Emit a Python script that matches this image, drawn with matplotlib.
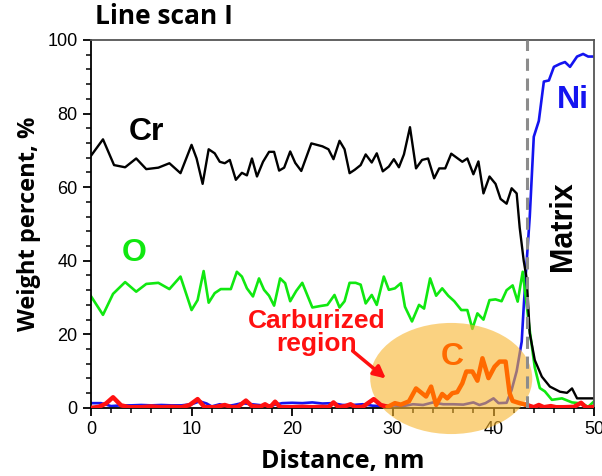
import numpy as np
import matplotlib
matplotlib.use("Agg")
import matplotlib.pyplot as plt
from matplotlib.patches import Ellipse

plt.rcParams.update({
    "font.family": "Liberation Sans",
    "font.size": 12,
})

# ---- data ----
cr_x = [0, 1.2, 2.3, 3.4, 4.5, 5.5, 6.7, 7.8, 8.9, 10.0, 10.5, 11.1, 11.7, 12.3, 12.8,
        13.3, 13.8, 14.4, 15.0, 15.5, 16.0, 16.5, 17.1, 17.7, 18.2, 18.7, 19.2, 19.8,
        20.3, 20.9, 21.9, 23.0, 23.6, 24.1, 24.7, 25.2, 25.7, 26.2, 26.8, 27.3, 27.9,
        28.4, 29.0, 29.6, 30.1, 30.6, 31.1, 31.7, 32.3, 32.9, 33.5, 34.1, 34.6, 35.2,
        35.8, 36.9, 37.4, 38.0, 38.5, 39.0, 39.6, 40.2, 40.7, 41.3, 41.8, 42.3, 42.6,
        43.0, 43.3, 43.6, 44.1, 44.8, 45.6, 46.6, 47.3, 47.8, 48.3, 48.9, 50.0]
cr_y = [68.5, 73.0, 66.0, 65.4, 67.8, 64.9, 65.3, 66.5, 63.8, 71.5, 67.8, 60.9, 70.3, 69.2,
        66.9, 66.5, 67.4, 62.0, 63.9, 63.2, 67.8, 62.9, 66.9, 69.6, 69.6, 64.5, 65.3, 69.7,
        66.6, 64.4, 71.9, 71.1, 70.3, 67.6, 72.6, 70.3, 63.8, 64.7, 66.0, 68.9, 66.7, 69.2,
        64.3, 65.6, 67.6, 65.4, 68.9, 76.3, 65.1, 67.4, 67.8, 62.4, 65.1, 65.1, 69.1, 66.9,
        67.8, 63.5, 67.0, 58.3, 62.9, 60.9, 56.8, 55.5, 59.7, 58.3, 49.0, 40.0, 35.0, 20.3,
        13.0, 8.5, 5.8, 4.4, 4.1, 5.3, 2.6, 2.6, 2.6]

o_x = [0, 1.2, 2.2, 3.4, 4.5, 5.5, 6.7, 7.8, 8.9, 10.0, 10.6, 11.2, 11.7, 12.3, 12.9,
       13.9, 14.5, 15.0, 15.5, 16.1, 16.7, 17.2, 17.7, 18.2, 18.8, 19.3, 19.8, 20.4,
       21.0, 22.0, 22.8, 23.5, 24.2, 24.7, 25.2, 25.7, 26.3, 26.8, 27.3, 27.9, 28.4,
       29.1, 29.6, 30.2, 30.8, 31.2, 31.9, 32.6, 33.1, 33.7, 34.3, 34.9, 35.5, 36.1,
       36.8, 37.4, 37.9, 38.4, 39.0, 39.6, 40.2, 40.8, 41.3, 41.9, 42.4, 42.9, 43.6,
       44.1, 44.6, 45.1, 45.8, 46.8, 47.8, 48.8, 49.4, 50.0]
o_y = [30.4, 25.3, 31.0, 34.2, 31.6, 33.7, 34.0, 32.3, 35.7, 26.6, 29.3, 37.2, 28.6, 31.2,
       32.3, 32.3, 37.0, 35.7, 32.5, 30.3, 35.2, 32.1, 30.5, 27.8, 35.2, 33.9, 29.0, 31.8,
       34.0, 27.3, 27.7, 28.0, 30.7, 27.3, 29.0, 34.0, 34.0, 33.5, 28.4, 30.7, 28.0, 35.7,
       32.1, 32.5, 33.9, 27.5, 23.5, 28.0, 27.0, 35.2, 30.5, 32.5, 30.5, 29.0, 26.6, 26.6,
       21.5, 25.7, 24.0, 29.3, 29.5, 29.0, 32.0, 33.3, 28.9, 37.0, 21.0, 11.0, 5.4, 4.5,
       2.2, 2.6, 1.5, 1.2, 0.3, 1.8]

ni_x = [0, 1, 2, 3, 4, 5, 6, 7, 8, 9, 10, 10.8, 11.5, 12, 12.8, 13.5, 14.2, 15, 16, 17,
        18, 19, 20, 21, 22, 23, 24, 25, 26, 27, 28, 29, 30, 31, 32, 33, 34, 35, 36, 37,
        38, 38.6, 39.2, 40, 40.5, 41.3, 41.8, 42.3, 42.8, 43.0, 43.2, 43.6, 44.0, 44.5,
        45.0, 45.5, 46.0, 46.6, 47.1, 47.6, 48.3, 48.9, 49.4, 50.0]
ni_y = [1.3, 1.3, 0.5, 0.7, 0.7, 0.8, 0.7, 0.8, 0.7, 0.7, 1.0, 1.8, 1.2, 0.4, 1.0, 0.5,
        0.8, 1.3, 1.0, 0.7, 0.7, 1.3, 1.4, 1.3, 1.5, 1.2, 1.3, 0.8, 0.8, 1.0, 0.6, 0.5,
        0.7, 0.5, 1.0, 0.8, 1.5, 1.0, 1.0, 0.9, 1.5, 0.8, 1.3, 2.6, 1.3, 1.4, 4.9, 10.0,
        18.0, 27.5, 36.0, 52.0, 73.7, 78.0, 88.7, 89.0, 92.7, 93.5, 94.0, 92.7, 95.5,
        96.2, 95.5, 95.5]

red_x = [0, 0.8, 1.5, 2.2, 3.0, 3.8, 5, 6, 7, 8, 9, 9.8, 10.6, 11.3, 12.3, 13.3, 14,
         14.6, 15.4, 16.0, 16.8, 17.3, 17.8, 18.3, 18.8, 20, 21, 22, 23, 23.6, 24.1,
         24.6, 25.3, 25.8, 26.3, 27, 28.1, 28.8, 29.5]
red_y = [0, 0.3, 1.2, 2.9, 0.7, 0.2, 0.2, 0.4, 0.2, 0.3, 0.2, 0.8, 2.4, 0.2, 0.2, 0.8,
         0.2, 0.3, 2.0, 0.5, 0.3, 1.0, 0.2, 1.7, 0.2, 0.2, 0.3, 0.2, 0.3, 0.2, 1.5, 0.2,
         0.5, 1.0, 0.2, 0.3, 2.4, 0.8, 0.3]
red2_x = [43.3, 44.0, 44.5, 45.0, 45.7, 46.2, 47.0, 48.0, 48.7, 49.2, 50.0]
red2_y = [0.8, 0.2, 0.8, 0.2, 0.5, 0.2, 0.2, 0.3, 1.4, 0.1, 0.3]

c_x = [29.5, 30.2, 30.8, 31.6, 32.3, 32.8, 33.3, 33.8, 34.3, 34.9, 35.4, 35.9, 36.4,
       36.9, 37.3, 37.9, 38.4, 38.9, 39.5, 40.1, 40.6, 41.2, 41.6, 41.9, 42.6, 43.3]
c_y = [0.3, 1.3, 0.9, 1.8, 5.3, 4.2, 3.1, 5.8, 0.8, 3.8, 2.6, 4.0, 4.3, 6.7, 9.9, 9.9,
       7.4, 13.5, 8.1, 11.2, 12.6, 12.6, 4.0, 1.9, 1.3, 0.8]

interface_x = 43.3

fig = plt.figure(figsize=(6.02, 4.76), dpi=100)
ax = fig.add_axes([0.151, 0.143, 0.836, 0.773])

ax.plot(ni_x, ni_y, color="#1414F0", lw=1.9, zorder=2)
ax.plot(o_x, o_y, color="#10E810", lw=1.9, zorder=2)
ax.plot(cr_x, cr_y, color="black", lw=1.7, zorder=2)

# carburized region highlight
ax.add_patch(Ellipse((35.8, 8.0), 16.1, 30.2, facecolor="#F7B52E", alpha=0.6,
                     edgecolor="none", zorder=3, clip_on=False))

ax.plot(red_x, red_y, color="#FF1010", lw=3.2, zorder=4)
ax.plot(red2_x, red2_y, color="#FF1010", lw=3.2, zorder=4)
ax.plot(c_x, c_y, color="#FF6A00", lw=3.2, zorder=4)
ax.axvline(interface_x, color="#8C8C8C", lw=2.2, ls=(0, (4, 2.5)), zorder=5)

ax.set_xlim(0, 50)
ax.set_ylim(0, 100)
ax.set_xticks(np.arange(0, 51, 10))
ax.set_xticks(np.arange(0, 51, 2), minor=True)
ax.set_yticks(np.arange(0, 101, 20))
ax.set_yticks(np.arange(0, 101, 4), minor=True)
ax.tick_params(which="major", direction="out", length=6, width=1.3, labelsize=13)
ax.tick_params(which="minor", direction="out", length=3.5, width=1.1)
for s in ax.spines.values():
    s.set_linewidth(1.3)
ax.spines["top"].set_color("#555555")
ax.spines["right"].set_color("#555555")

ax.set_xlabel("Distance, nm", fontsize=18, fontweight="bold", family="Open Sans", labelpad=8)
ax.set_ylabel("Weight percent, %", fontsize=17, fontweight="bold", family="Open Sans", labelpad=5)
fig.text(0.157, 0.965, "Line scan I", fontsize=19, fontweight="bold", family="Open Sans",
         va="center", ha="left")

ax.text(5.5, 75, "Cr", fontsize=23, fontweight="bold", color="black", ha="center", va="center")
ax.text(4.3, 42, "O", fontsize=23, fontweight="bold", color="#10E810", ha="center", va="center")
ax.text(47.9, 83.7, "Ni", fontsize=23, fontweight="bold", color="#1414F0", ha="center", va="center")
ax.text(46.9, 49.5, "Matrix", fontsize=22, fontweight="bold", color="black", rotation=90,
        ha="center", va="center")
ax.text(35.9, 13.8, "C", fontsize=23, fontweight="bold", color="#FF6A00", ha="center", va="center",
        zorder=6)
ax.text(22.4, 20.5, "Carburized\nregion", fontsize=19, fontweight="bold", color="#FF1010",
        ha="center", va="center", linespacing=0.9)
ax.annotate("", xy=(29.3, 8.0), xytext=(26.0, 15.5),
            arrowprops=dict(arrowstyle="-|>,head_length=0.6,head_width=0.3", color="#FF1010",
                            lw=2.5, shrinkA=0, shrinkB=0), zorder=6)

fig.savefig("out.png", dpi=100)
